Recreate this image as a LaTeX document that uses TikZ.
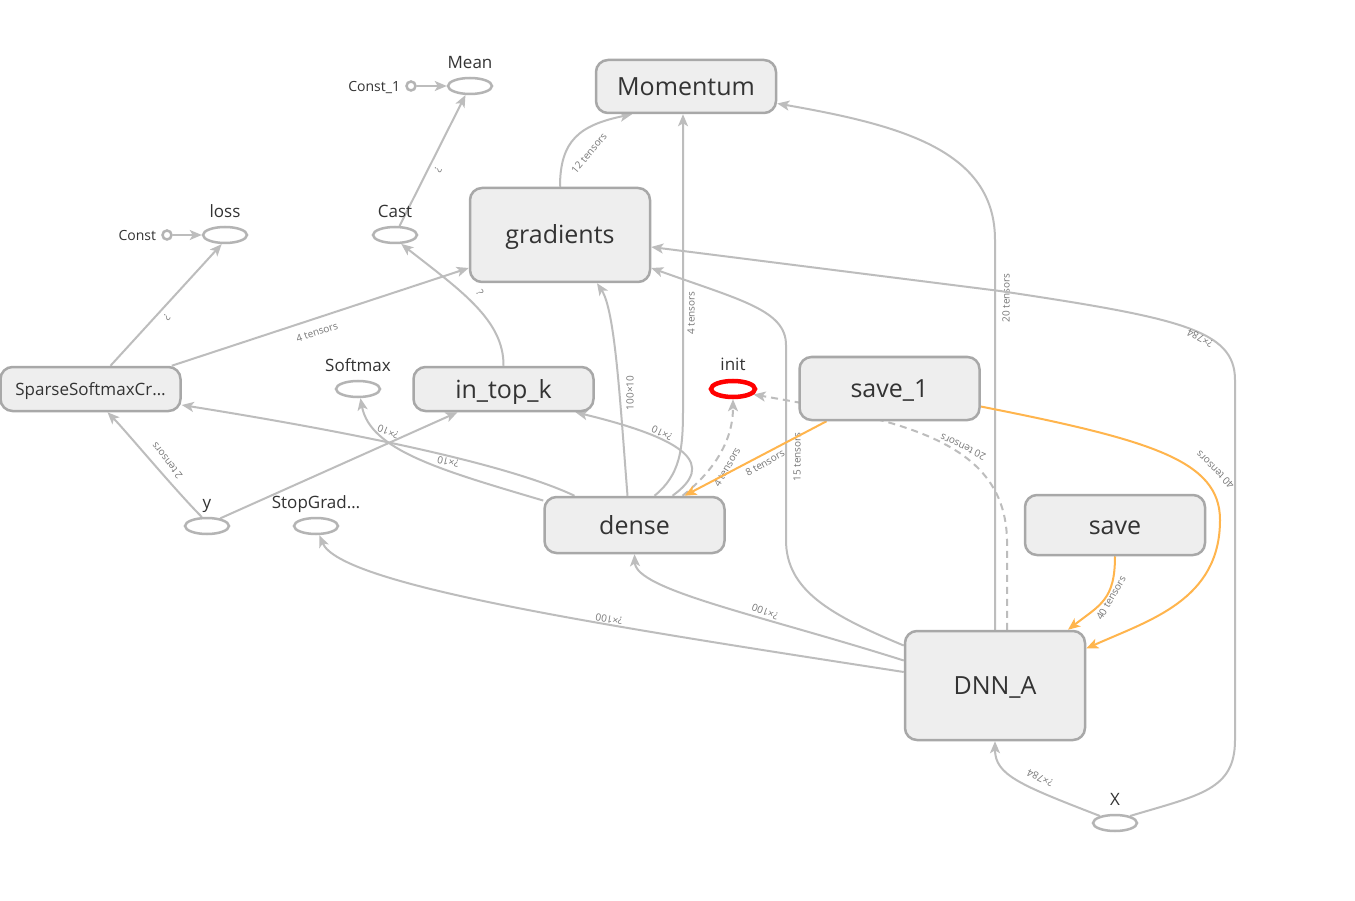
\documentclass[tikz,border=0pt]{standalone}
\usepackage{fontspec}
\setmainfont{Open Sans}
\usetikzlibrary{arrows.meta,shapes.geometric,backgrounds,positioning}

\definecolor{boxfill}{HTML}{EEEEEE}
\definecolor{boxline}{HTML}{A8A8A8}
\definecolor{opline}{HTML}{B4B4B4}
\definecolor{edgegray}{HTML}{BDBDBD}
\definecolor{refedge}{HTML}{FFB54D}
\definecolor{txt}{HTML}{333333}
\definecolor{lbltxt}{HTML}{777777}

\begin{document}
\begin{tikzpicture}[x=1pt,y=-1pt,
    metabox/.style={draw=boxline, fill=boxfill, line width=2.5pt, rounded corners=12pt,
        minimum width=180pt, inner sep=0pt, text=txt, font=\fontsize{25}{30}\selectfont,
        text height=18pt, text depth=0pt},
    opnode/.style={ellipse, draw=opline, fill=white, line width=2.5pt, minimum width=44pt,
        minimum height=16pt, inner sep=0pt},
    constnode/.style={circle, draw=opline, fill=white, line width=2.5pt, minimum size=9pt,
        inner sep=0pt},
    opname/.style={text=txt, font=\fontsize{17}{20}\selectfont, inner sep=0pt, text depth=0pt, yshift=8pt},
    constname/.style={text=txt, font=\fontsize{14}{16}\selectfont, inner sep=0pt, text depth=0pt, xshift=-5pt},
    flow/.style={draw=edgegray, line width=2pt, -{Stealth[length=12pt,width=10pt,inset=3pt]}},
    refflow/.style={flow, draw=refedge},
    ctrl/.style={flow, dash pattern=on 7pt off 5pt},
    tlabel/.style={text=lbltxt, font=\fontsize{10}{12}\selectfont, inner sep=0pt}]

    % Rahmen
    \useasboundingbox (0,0) rectangle (1355,901);

    % Gruppen
    \node[metabox, minimum height=53pt] (momentum) at (686,86.5) {Momentum};
    \node[metabox, minimum height=94pt] (gradients) at (560,235) {gradients};
    \node[metabox, minimum height=44pt, font=\fontsize{17}{20}\selectfont, text height=12pt] (sscr) at (90.5,389) {SparseSoftmaxCr…};
    \node[metabox, minimum height=44pt] (intopk) at (503.5,389) {in\_top\_k};
    \node[metabox, minimum height=63pt] (save1) at (889.5,388.5) {save\_1};
    \node[metabox, minimum height=56pt] (dense) at (634.5,525) {dense};
    \node[metabox, minimum height=60pt] (save) at (1115,525) {save};
    \node[metabox, minimum height=109pt] (dnn) at (995,685.5) {DNN\_A};

    % Operationen
    \node[opnode, label={[opname]above:Mean}] (mean) at (470,86) {};
    \node[opnode, label={[opname]above:loss}] (loss) at (225,235) {};
    \node[opnode, label={[opname]above:Cast}] (cast) at (395,235) {};
    \node[opnode, label={[opname]above:Softmax}] (softmax) at (358,389) {};
    \node[opnode, draw=red, line width=4.5pt, label={[opname]above:init}] (init) at (733,389) {};
    \node[opnode, label={[opname]above:y}] (y) at (207,526) {};
    \node[opnode, label={[opname]above:StopGrad…}] (stopgrad) at (316,526) {};
    \node[opnode, label={[opname]above:X}] (xin) at (1115,823) {};

    % Konstanten
    \node[constnode, left=30pt of mean, label={[constname]left:Const\_1}] (const1) {};
    \node[constnode, left=29pt of loss, label={[constname]left:Const}] (const0) {};

    % Kanten
    \begin{scope}[on background layer]
        \fill[white] (0,0) rectangle (1355,901);

        \draw[flow] (const1) -- (mean);
        \draw[flow] (const0) -- (loss);
        \draw[flow] (cast) -- (mean) node[tlabel, rotate=-116] at (438,170) {?};
        \draw[flow] ([xshift=20pt]sscr.north) -- (loss.250) node[tlabel, rotate=-131] at (167,317) {?};
        \draw[flow] ([xshift=-10pt]sscr.north east) -- ([yshift=-33pt]gradients.west)
            node[tlabel, rotate=18] at (317,332) {4 tensors};
        \draw[flow] (intopk.north) .. controls (504,320) and (460,290) .. (cast.-55)
            node[tlabel, rotate=-60] at (480,293) {?};
        \draw[flow] (gradients.north) .. controls (560,140) and (580,125) .. ([xshift=-54pt]momentum.south)
            node[tlabel, rotate=50] at (589,153) {12 tensors};
        \draw[flow] ([xshift=20pt]dense.north) .. controls (680,475) and (683,450) .. (683,410)
            -- ([xshift=-3pt]momentum.south) node[tlabel, rotate=90] at (691,313) {4 tensors};
        \draw[flow] ([xshift=-7pt]dense.north) .. controls (620,400) and (615,310) .. ([xshift=37pt]gradients.south)
            node[tlabel, rotate=90] at (630,393) {100×10};
        \draw[flow] (dnn.north) -- (995,240) .. controls (995,150) and (900,125) .. ([yshift=-17pt]momentum.east)
            node[tlabel, rotate=90] at (1006,298) {20 tensors};
        \draw[flow] ([yshift=40pt]dnn.west) .. controls (830,615) and (786,590) .. (786,540) -- (786,345)
            .. controls (786,310) and (740,300) .. ([yshift=-33pt]gradients.east)
            node[tlabel, rotate=90] at (797,457) {15 tensors};
        \draw[flow] (xin.25) .. controls (1200,795) and (1235,790) .. (1235,740) -- (1235,380)
            .. controls (1235,330) and (1180,318) .. (1000,291) -- ([yshift=-12pt]gradients.east)
            node[tlabel, rotate=153] at (1200,338) {?×784};
        \draw[flow] (xin.155) .. controls (1020,785) and (995,775) .. (dnn.south)
            node[tlabel, rotate=155] at (1040,778) {?×784};
        \draw[flow] ([yshift=13.5pt]dnn.west) .. controls (600,625) and (340,585) .. (stopgrad.-70)
            node[tlabel, rotate=170] at (609,619) {?×100};
        \draw[flow] ([yshift=25pt]dnn.west) .. controls (760,615) and (636,590) .. (dense.south)
            node[tlabel, rotate=160] at (765,612) {?×100};
        \draw[flow] ([xshift=-60pt]dense.north) .. controls (520,470) and (400,440) .. ([yshift=-16pt]sscr.east)
            node[tlabel, rotate=167] at (448,462) {?×10};
        \draw[flow] (dense.165) .. controls (440,470) and (370,450) .. (softmax.-75)
            node[tlabel, rotate=158] at (388,432) {?×10};
        \draw[flow] ([xshift=38pt]dense.north) .. controls (715,465) and (690,440) .. ([xshift=72pt]intopk.south)
            node[tlabel, rotate=155] at (662,433) {?×10};
        \draw[flow] (y.120) .. controls (175,490) and (125,430) .. ([xshift=17pt]sscr.south)
            node[tlabel, rotate=128] at (167,461) {2 tensors};
        \draw[flow] (y.30) -- ([xshift=-46pt]intopk.south);

        % Steuerkanten
        \draw[ctrl] ([xshift=48pt]dense.north) .. controls (715,470) and (733,440) .. (init.south)
            node[tlabel, rotate=60] at (727,467) {4 tensors};
        \draw[ctrl] ([xshift=12pt]dnn.north) -- (1007,540) .. controls (1005,440) and (900,420) .. (init.-15)
            node[tlabel, rotate=155] at (963,447) {20 tensors};

        % Referenzkanten
        \draw[refflow] ([xshift=-63pt]save1.south) -- ([xshift=50pt]dense.north)
            node[tlabel, rotate=30] at (765,463) {8 tensors};
        \draw[refflow] ([yshift=-18pt]save1.east) .. controls (1150,440) and (1220,460) .. (1220,520)
            .. controls (1220,600) and (1150,620) .. ([yshift=37pt]dnn.east)
            node[tlabel, rotate=135] at (1215,470) {40 tensors};
        \draw[refflow] (save.south) .. controls (1115,600) and (1100,605) .. ([xshift=73pt]dnn.north)
            node[tlabel, rotate=60] at (1111,598) {40 tensors};
    \end{scope}

\end{tikzpicture}
\end{document}
